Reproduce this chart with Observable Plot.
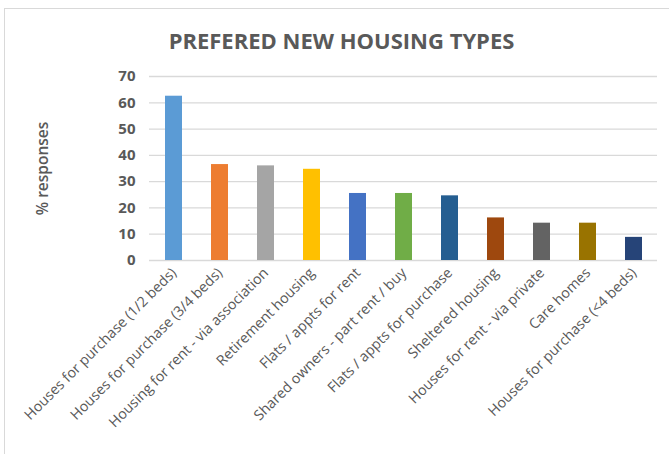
<!DOCTYPE html>
<html><head><meta charset="utf-8">
<script src="https://cdn.jsdelivr.net/npm/d3@7"></script>
<script src="https://cdn.jsdelivr.net/npm/@observablehq/plot@0.6"></script>
<style>
html,body{margin:0;padding:0;background:#fff;overflow:hidden;width:669px;height:454px;}
#wrap{position:relative;width:669px;height:454px;}
#frame{position:absolute;left:4px;top:8px;width:700px;height:500px;border:1px solid #d9d9d9;box-sizing:border-box;}
#title{position:absolute;left:0;width:683px;top:25px;text-align:center;font-family:"Open Sans",sans-serif;font-weight:bold;font-size:22px;color:#595959;}
#chart{position:absolute;left:0;top:0;}
</style></head>
<body><div id="wrap"><div id="frame"></div><div id="title">PREFERED NEW HOUSING TYPES</div><div id="chart"></div></div>
<script>
const categories = [
  "Houses for purchase (1/2 beds)",
  "Houses for purchase (3/4 beds)",
  "Housing for rent - via association",
  "Retirement housing",
  "Flats / appts for rent",
  "Shared owners - part rent / buy",
  "Flats / appts for purchase",
  "Sheltered housing",
  "Houses for rent - via private",
  "Care homes",
  "Houses for purchase (<4 beds)"
];
const values = [62.5, 36.5, 36.0, 34.7, 25.5, 25.5, 24.6, 16.2, 14.2, 14.2, 8.8];
const colors = ["#5B9BD5","#ED7D31","#A5A5A5","#FFC000","#4472C4","#70AD47","#255E91","#9E480E","#636363","#997300","#264478"];
const yTicks = [0,10,20,30,40,50,60,70];

const data = categories.map((c,i)=>({cat:c, value:values[i], color:colors[i]}));

const plot = Plot.plot({
  width: 669,
  height: 454,
  marginLeft: 149,
  marginRight: 12,
  marginTop: 76,
  marginBottom: 194,
  style: {fontFamily: '"Open Sans", sans-serif', color: "#595959", background: "transparent"},
  x: {domain: categories, paddingInner: 0.64, paddingOuter: 0.32, label: null},
  y: {domain: [0,70], ticks: yTicks, label: "% responses"},
  marks: [
    Plot.gridY(yTicks, {stroke: "#d9d9d9", strokeOpacity: 1, strokeWidth: 1.3}),
    Plot.barY(data, {x: "cat", y: "value", fill: "color"}),
    Plot.axisY({ticks: yTicks, tickSize: 0, tickPadding: 14, fontSize: 15, fontWeight: "bold", fill: "#595959",
      label: "% responses", labelAnchor: "center", labelArrow: "none", labelOffset: 113}),
    Plot.axisX({tickSize: 0, tickPadding: 10, tickRotate: -45, fontSize: 14.3, fill: "#595959", label: null})
  ]
});
plot.querySelectorAll('g[aria-label="y-axis label"] text').forEach(t=>{t.setAttribute("font-size","15.5");t.setAttribute("font-weight","600");});
document.getElementById("chart").appendChild(plot);
</script>
</body></html>
